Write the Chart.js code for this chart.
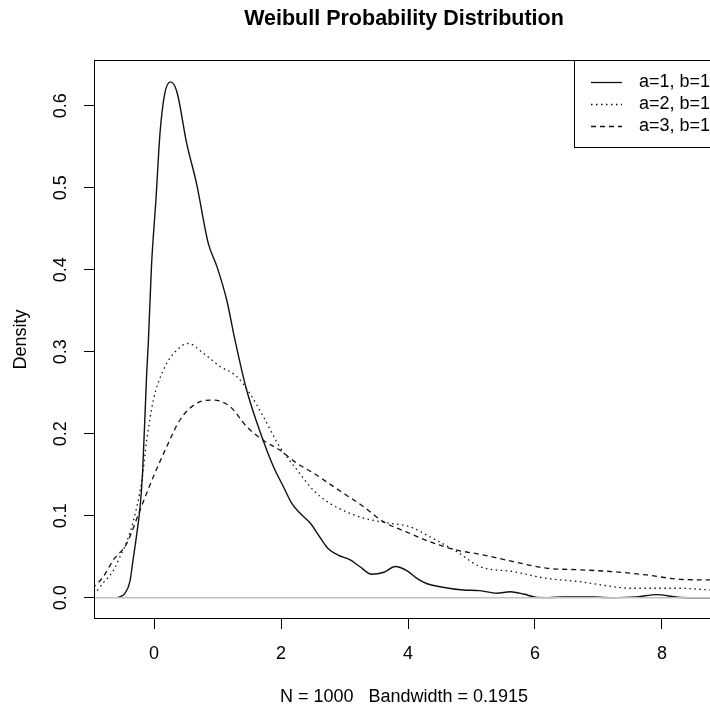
<!DOCTYPE html>
<html><head><meta charset="utf-8">
<script src="https://cdn.jsdelivr.net/npm/chart.js@4.4.1/dist/chart.umd.min.js"></script>
<style>
html,body{margin:0;padding:0;overflow:hidden;background:#fff;width:710px;height:709px}
#wrap{position:relative;width:760px;height:709px}
canvas{display:block}
</style></head>
<body><div id="wrap"><canvas id="c" width="760" height="709"></canvas></div>
<script>
const titleText = 'Weibull Probability Distribution';
const xLabel = 'N = 1000   Bandwidth = 0.1915';
const yLabel = 'Density';
const seriesNames = ['a=1, b=1', 'a=2, b=1', 'a=3, b=1'];
const xTickValues = [0, 2, 4, 6, 8];
const yTickValues = [0, 0.1, 0.2, 0.3, 0.4, 0.5, 0.6];

// a=1, b=1 (solid)
const xs1 = [-0.57,-0.46,-0.38,-0.33,-0.27,-0.22,-0.18,-0.115,-0.09,-0.04,0.03,0.095,0.17,0.26,0.36,0.515,0.67,0.855,0.99,1.145,1.276,1.46,1.70,1.88,2.04,2.17,2.30,2.46,2.61,2.74,2.90,3.09,3.24,3.43,3.62,3.80,3.98,4.14,4.30,4.50,4.87,5.13,5.40,5.61,5.82,6.03,6.2,6.44,6.7,6.91,7.2,7.6,7.92,8.25,8.5,9.0];
const ys1 = [0,0.005,0.0195,0.046,0.0785,0.110,0.152,0.274,0.31,0.404,0.485,0.567,0.615,0.629,0.617,0.554,0.505,0.432,0.404,0.363,0.314,0.253,0.196,0.160,0.135,0.115,0.103,0.091,0.074,0.060,0.052,0.046,0.038,0.0285,0.031,0.038,0.033,0.0236,0.017,0.0134,0.0094,0.0086,0.0054,0.0073,0.0045,0.0003,0.0001,0.0008,0.001,0.0008,0.0001,0.001,0.0037,0.0005,0,0];

// a=2, b=1 (dotted)
const xs2 = [-1.1,-0.945,-0.80,-0.64,-0.535,-0.43,-0.32,-0.19,-0.115,-0.01,0.15,0.36,0.54,0.78,1.04,1.30,1.51,1.72,1.98,2.25,2.51,2.77,3.05,3.30,3.51,3.72,4.03,4.35,4.77,5.13,5.66,6.18,6.71,7.23,7.50,8.28,8.76,9.2];
const ys2 = [0.001,0.005,0.018,0.033,0.050,0.068,0.095,0.1435,0.192,0.241,0.278,0.302,0.310,0.298,0.282,0.270,0.249,0.221,0.184,0.156,0.131,0.115,0.104,0.097,0.0935,0.0907,0.0866,0.074,0.056,0.038,0.0317,0.0236,0.0195,0.0134,0.0115,0.0115,0.0094,0.008];

// a=3, b=1 (dashed)
const xs3 = [-1.1,-0.945,-0.80,-0.64,-0.43,-0.22,-0.01,0.2,0.41,0.67,0.93,1.2,1.46,1.72,1.98,2.25,2.51,2.77,3.03,3.30,3.61,3.98,4.35,4.77,5.13,5.66,6.18,6.71,7.23,7.76,8.28,8.76,9.2];
const ys3 = [0.006,0.0134,0.0256,0.046,0.066,0.107,0.1476,0.184,0.217,0.237,0.241,0.233,0.2085,0.192,0.180,0.164,0.152,0.1385,0.125,0.111,0.0927,0.080,0.068,0.058,0.053,0.044,0.036,0.034,0.0317,0.0277,0.0224,0.0216,0.02];

const XMIN = -0.945, XMAX = 8.819, YMIN = -0.026, YMAX = 0.6557;
const FONT = '"Liberation Sans", Arial, Helvetica, sans-serif';
const toPts = (xs, ys) => xs.map((x, i) => ({x: x, y: ys[i]}));

const line = (data, dash, order, color, width) => ({
  data: data, borderColor: color, borderWidth: width, borderDash: dash,
  pointRadius: 0, fill: false, cubicInterpolationMode: 'monotone', order: order
});

const decor = {
  id: 'decor',
  afterDraw(chart) {
    const ctx = chart.ctx, a = chart.chartArea;
    const xs = chart.scales.x, ys = chart.scales.y;
    ctx.save();
    ctx.strokeStyle = '#000'; ctx.lineWidth = 1;
    ctx.strokeRect(Math.round(a.left) + 0.5, Math.round(a.top) + 0.5,
                   Math.round(a.right - a.left) - 1, Math.round(a.bottom - a.top) - 1);
    ctx.fillStyle = '#000';
    ctx.font = 'bold 21.5px ' + FONT;
    ctx.textAlign = 'center'; ctx.textBaseline = 'alphabetic';
    ctx.fillText(titleText, (a.left + a.right) / 2, 25);
    ctx.font = '18px ' + FONT;
    xs.ticks.forEach(t => {
      ctx.fillText(String(t.value), xs.getPixelForValue(t.value), 659);
    });
    ctx.fillText(xLabel, (a.left + a.right) / 2, 702);
    ys.ticks.forEach(t => {
      ctx.save();
      ctx.translate(61, ys.getPixelForValue(t.value));
      ctx.rotate(-Math.PI / 2);
      ctx.textBaseline = 'middle';
      ctx.fillText(t.value.toFixed(1), 0, 0);
      ctx.restore();
    });
    ctx.save();
    ctx.translate(21, (a.top + a.bottom) / 2);
    ctx.rotate(-Math.PI / 2);
    ctx.textBaseline = 'middle';
    ctx.fillText(yLabel, 0, 0);
    ctx.restore();
    const lx = 574, ly = Math.round(a.top);
    ctx.fillStyle = '#fff';
    ctx.fillRect(lx, ly, a.right - lx, 87);
    ctx.strokeStyle = '#000';
    ctx.strokeRect(lx + 0.5, ly + 0.5, a.right - lx - 1, 87);
    const dashes = [[], [1.5, 3.5], [5, 4]];
    const rowsY = [82, 104, 126];
    ctx.font = '18px ' + FONT;
    ctx.textAlign = 'left'; ctx.textBaseline = 'middle';
    seriesNames.forEach((n, i) => {
      ctx.setLineDash(dashes[i]);
      ctx.lineWidth = 1.3; ctx.strokeStyle = '#111';
      ctx.beginPath(); ctx.moveTo(591, rowsY[i] + 0.5); ctx.lineTo(622, rowsY[i] + 0.5); ctx.stroke();
      ctx.setLineDash([]);
      ctx.fillStyle = '#000';
      ctx.fillText(n, 639, rowsY[i]);
    });
    ctx.restore();
  }
};

const gridOpts = {display: true, drawOnChartArea: false, drawTicks: true, tickLength: 10, color: '#000', lineWidth: 1};

new Chart(document.getElementById('c'), {
  type: 'line',
  data: {
    datasets: [
      Object.assign(line(toPts(xs1, ys1), [], 3, '#111', 1.4), {label: seriesNames[0]}),
      Object.assign(line([{x: -2, y: 0}, {x: 10, y: 0}], [], 2, '#c2c2c2', 1.5), {label: 'zero', cubicInterpolationMode: 'default', tension: 0}),
      Object.assign(line(toPts(xs2, ys2), [1.5, 3.5], 1, '#111', 1.3), {label: seriesNames[1]}),
      Object.assign(line(toPts(xs3, ys3), [5, 4], 0, '#111', 1.3), {label: seriesNames[2]})
    ]
  },
  options: {
    responsive: false, animation: false, devicePixelRatio: 1,
    layout: {padding: {left: 0, top: 60, right: 46, bottom: 0}},
    plugins: {legend: {display: false}, tooltip: {enabled: false}, title: {display: false}},
    scales: {
      x: {type: 'linear', min: XMIN, max: XMAX,
          afterBuildTicks: s => { s.ticks = xTickValues.map(v => ({value: v})); },
          afterFit: s => { s.height = 90; },
          ticks: {display: false},
          grid: gridOpts, border: {display: false}},
      y: {type: 'linear', min: YMIN, max: YMAX,
          afterBuildTicks: s => { s.ticks = yTickValues.map(v => ({value: v})); },
          afterFit: s => { s.width = 94; },
          ticks: {display: false},
          grid: gridOpts, border: {display: false}}
    }
  },
  plugins: [decor]
});
</script>
</body></html>
